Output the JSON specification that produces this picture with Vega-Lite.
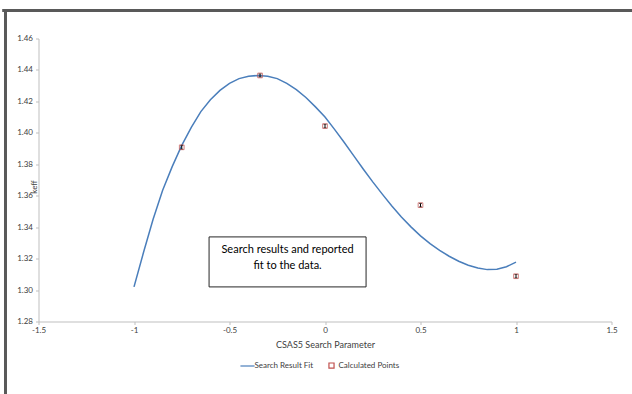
{
  "$schema": "https://vega.github.io/schema/vega-lite/v6.json",
  "width": 573,
  "height": 283,
  "autosize": {"type": "none"},
  "padding": {"left": 38.5, "top": 38.5, "right": 20.5, "bottom": 72.5},
  "background": "white",
  "config": {
    "view": {"stroke": null},
    "font": "Lato",
    "axis": {
      "grid": false,
      "domainColor": "#bfbfbf",
      "tickColor": "#bfbfbf",
      "tickSize": 3,
      "labelFont": "Lato",
      "labelFontSize": 8,
      "labelColor": "#404040",
      "labelOverlap": false,
      "titleFont": "Lato",
      "titleFontWeight": "normal",
      "titleColor": "#404040"
    },
    "legend": {"labelFont": "Lato", "labelFontSize": 8, "labelColor": "#404040"}
  },
  "datasets": {
    "fit": [
      {"x": -1.0, "k": 1.302}, {"x": -0.95, "k": 1.324}, {"x": -0.9, "k": 1.345},
      {"x": -0.85, "k": 1.3635}, {"x": -0.8, "k": 1.3785}, {"x": -0.75, "k": 1.392},
      {"x": -0.7, "k": 1.4035}, {"x": -0.65, "k": 1.4135}, {"x": -0.6, "k": 1.421},
      {"x": -0.55, "k": 1.427}, {"x": -0.5, "k": 1.4315}, {"x": -0.45, "k": 1.4345},
      {"x": -0.4, "k": 1.436}, {"x": -0.35, "k": 1.4365}, {"x": -0.3, "k": 1.436},
      {"x": -0.25, "k": 1.4345}, {"x": -0.2, "k": 1.4315}, {"x": -0.15, "k": 1.4275},
      {"x": -0.1, "k": 1.4225}, {"x": -0.05, "k": 1.4165}, {"x": 0.0, "k": 1.41},
      {"x": 0.05, "k": 1.4022}, {"x": 0.1, "k": 1.394}, {"x": 0.15, "k": 1.3855},
      {"x": 0.2, "k": 1.377}, {"x": 0.25, "k": 1.3688}, {"x": 0.3, "k": 1.361},
      {"x": 0.35, "k": 1.3535}, {"x": 0.4, "k": 1.3465}, {"x": 0.45, "k": 1.3402},
      {"x": 0.5, "k": 1.3345}, {"x": 0.55, "k": 1.3295}, {"x": 0.6, "k": 1.3252},
      {"x": 0.65, "k": 1.3215}, {"x": 0.7, "k": 1.3183}, {"x": 0.75, "k": 1.3158},
      {"x": 0.8, "k": 1.314}, {"x": 0.85, "k": 1.313}, {"x": 0.9, "k": 1.3132},
      {"x": 0.95, "k": 1.3148}, {"x": 1.0, "k": 1.3178}
    ],
    "pts": [
      {"x": -0.75, "k": 1.3908, "lo": 1.3896, "hi": 1.392},
      {"x": -0.34, "k": 1.4365, "lo": 1.4355, "hi": 1.4375},
      {"x": 0.0, "k": 1.4043, "lo": 1.4032, "hi": 1.4054},
      {"x": 0.5, "k": 1.354, "lo": 1.3529, "hi": 1.3551},
      {"x": 1.0, "k": 1.3088, "lo": 1.3077, "hi": 1.3099}
    ]
  },
  "layer": [
    {
      "data": {"values": [{}]},
      "mark": {"type": "rule", "color": "#595959", "strokeWidth": 3},
      "encoding": {
        "x": {"datum": -1.69, "type": "quantitative", "scale": {"domain": [-1.5, 1.5]}},
        "x2": {"datum": 1.75},
        "y": {"datum": 1.4778, "type": "quantitative", "scale": {"domain": [1.28, 1.46]}}
      }
    },
    {
      "data": {"values": [{}]},
      "mark": {"type": "rule", "color": "#595959", "strokeWidth": 3},
      "encoding": {
        "x": {"datum": -1.6728, "type": "quantitative"},
        "y": {"datum": 1.4788, "type": "quantitative"},
        "y2": {"datum": 1.2}
      }
    },
    {
      "data": {"name": "fit"},
      "transform": [{"calculate": "'Search Result Fit'", "as": "series"}],
      "mark": {"type": "line", "strokeWidth": 1.5},
      "encoding": {
        "x": {
          "field": "x", "type": "quantitative", "title": "CSAS5 Search Parameter",
          "scale": {"domain": [-1.5, 1.5], "nice": false, "zero": false},
          "axis": {"values": [-1.5, -1, -0.5, 0, 0.5, 1, 1.5], "labelExpr": "datum.value < 0 ? '-' + format(-datum.value, '~g') : format(datum.value, '~g')", "titleFontSize": 9, "labelPadding": 2, "titlePadding": 6, "labelFlush": false}
        },
        "y": {
          "field": "k", "type": "quantitative", "title": "keff",
          "scale": {"domain": [1.28, 1.46], "nice": false, "zero": false},
          "axis": {"values": [1.28, 1.3, 1.32, 1.34, 1.36, 1.38, 1.4, 1.42, 1.44, 1.46], "format": ".2f", "labelOverlap": false, "tickCount": 10, "titleFontSize": 8, "titleAngle": 270, "titleX": -4, "titleY": 148, "titleAlign": "center", "titleBaseline": "middle", "labelPadding": 3}
        },
        "color": {
          "field": "series", "type": "nominal",
          "scale": {"domain": ["Search Result Fit", "Calculated Points"], "range": ["#4a7ebb", "#c0504d"]},
          "legend": {
            "title": null, "orient": "none", "legendX": 205, "legendY": 323, "direction": "horizontal",
            "columnPadding": 13, "symbolSize": 30, "symbolStrokeWidth": 1.2, "labelOffset": 3,
            "encode": {"symbols": {"update": {"size": {"signal": "datum.label === 'Search Result Fit' ? 200 : 26"}}}}
          }
        }
      }
    },
    {
      "data": {"name": "pts"},
      "mark": {"type": "errorbar", "ticks": {"color": "black", "size": 3}, "rule": {"color": "black", "strokeWidth": 1}},
      "encoding": {
        "x": {"field": "x", "type": "quantitative", "title": "CSAS5 Search Parameter"},
        "y": {"field": "lo", "type": "quantitative", "title": "keff",
          "axis": {"values": [1.28, 1.3, 1.32, 1.34, 1.36, 1.38, 1.4, 1.42, 1.44, 1.46], "format": ".2f", "labelOverlap": false, "tickCount": 10, "titleFontSize": 8, "titleAngle": 270, "titleX": -4, "titleY": 148, "titleAlign": "center", "titleBaseline": "middle", "labelPadding": 3}},
        "y2": {"field": "hi"}
      }
    },
    {
      "data": {"name": "pts"},
      "transform": [{"calculate": "'Calculated Points'", "as": "series"}],
      "mark": {"type": "point", "filled": false, "strokeWidth": 1, "size": 22},
      "encoding": {
        "x": {"field": "x", "type": "quantitative", "title": "CSAS5 Search Parameter"},
        "y": {"field": "k", "type": "quantitative", "title": "keff"},
        "color": {"field": "series", "type": "nominal"},
        "shape": {
          "field": "series", "type": "nominal",
          "scale": {"domain": ["Search Result Fit", "Calculated Points"], "range": ["stroke", "square"]}
        }
      }
    },
    {
      "data": {"values": [{}]},
      "mark": {"type": "rect", "fill": "white", "stroke": "#262626", "strokeWidth": 1},
      "encoding": {
        "x": {"datum": -0.607, "type": "quantitative"},
        "x2": {"datum": 0.215},
        "y": {"datum": 1.3338, "type": "quantitative"},
        "y2": {"datum": 1.302}
      }
    },
    {
      "data": {"values": [
        {"x": -0.196, "k": 1.3253, "t": "Search results and reported"},
        {"x": -0.196, "k": 1.3153, "t": "fit to the data."}
      ]},
      "mark": {"type": "text", "fontSize": 11, "font": "Lato", "color": "#000000", "align": "center", "baseline": "middle"},
      "encoding": {
        "x": {"field": "x", "type": "quantitative"},
        "y": {"field": "k", "type": "quantitative"},
        "text": {"field": "t"}
      }
    }
  ]
}
